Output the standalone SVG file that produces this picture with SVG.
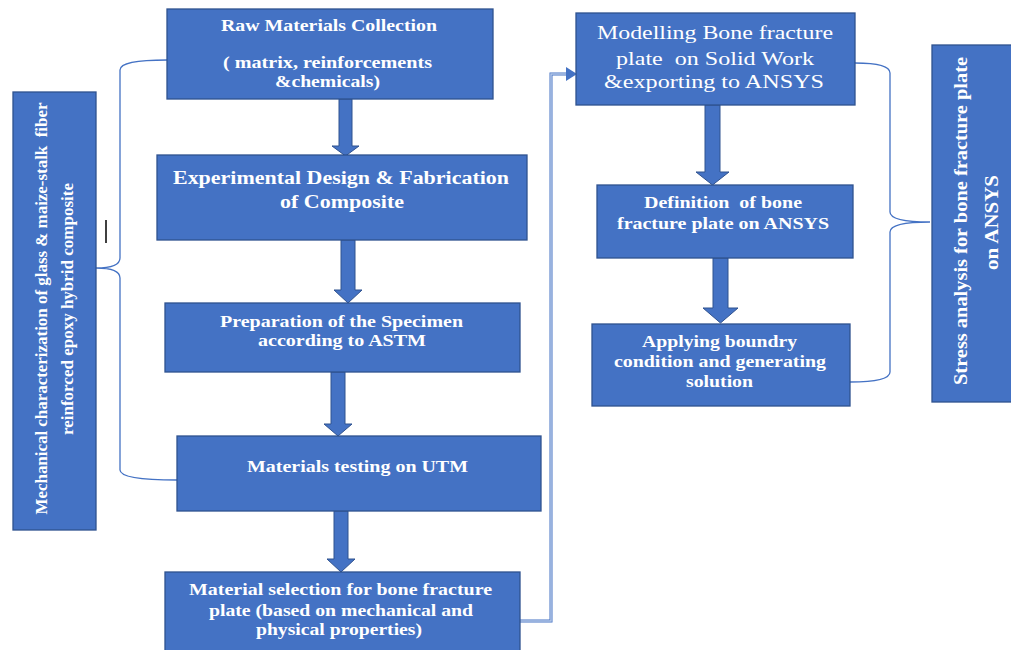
<svg xmlns="http://www.w3.org/2000/svg" width="1011" height="650" viewBox="0 0 1011 650">
<defs>
<style>
.box{fill:#4472c4;stroke:#2f528f;stroke-width:1.3}
.t{fill:#ffffff;font-family:"Liberation Serif","Times New Roman",serif;font-weight:bold;text-anchor:middle;font-size:16px;white-space:pre}
.r{font-weight:normal;font-size:19px}
.brace{fill:none;stroke:#4472c4;stroke-width:1.3}
.blk{fill:#4472c4;stroke:#2f528f;stroke-width:1}
</style>
</defs>
<rect width="1011" height="650" fill="#ffffff"/>

<g id="connectors">
<path class="brace" d="M167,60 Q120,60 120,70 L120,258 Q120,268 96,268 Q120,268 120,278 L120,470 Q120,480 177,480"/>
<path class="brace" d="M855,63 Q890,63 890,73 L890,212 Q890,222 930,222 Q890,222 890,232 L890,372 Q890,382 850,382"/>
<line x1="106" y1="220" x2="106" y2="243" stroke="#000000" stroke-width="1.5"/>
<path class="blk" d="M339,99 L352,99 L352,146 L359,146 L345.5,156 L332,146 L339,146 Z"/>
<path class="blk" d="M341,240 L355,240 L355,290 L362,290 L348,303 L334,290 L341,290 Z"/>
<path class="blk" d="M331,372 L345,372 L345,424 L352,424 L338,436 L324,424 L331,424 Z"/>
<path class="blk" d="M334,511 L348,511 L348,559 L355,559 L341,572 L327,559 L334,559 Z"/>
<path class="blk" d="M705,105 L720,105 L720,172 L729,172 L712.5,185 L696,172 L705,172 Z"/>
<path class="blk" d="M713,258 L728,258 L728,308 L738,308 L720.5,323 L703,308 L713,308 Z"/>
<path d="M520,621 L551,621 L551,74 L568,74" fill="none" stroke="#4472c4" stroke-width="3"/>
<path d="M520,621 L551,621 L551,74 L568,74" fill="none" stroke="#b4c7e7" stroke-width="1.5"/>
<path d="M566,67 L577,74 L566,81 Z" fill="#4472c4"/>
</g>

<g id="left-label">
<rect class="box" x="13" y="92" width="83" height="438"/>
<text class="t" xml:space="preserve" transform="translate(46.5,308.5) rotate(-90)" textLength="412" lengthAdjust="spacingAndGlyphs">Mechanical characterization of glass &amp; maize-stalk  fiber</text>
<text class="t" transform="translate(73,309) rotate(-90)" textLength="252" lengthAdjust="spacingAndGlyphs">reinforced epoxy hybrid composite</text>
</g>

<g id="raw-materials">
<rect class="box" x="167" y="9" width="326" height="90"/>
<text class="t" x="329" y="31" textLength="216" lengthAdjust="spacingAndGlyphs">Raw Materials Collection</text>
<text class="t" x="327.5" y="68" textLength="209" lengthAdjust="spacingAndGlyphs">( matrix, reinforcements</text>
<text class="t" x="327.5" y="87" textLength="105" lengthAdjust="spacingAndGlyphs">&amp;chemicals)</text>
</g>

<g id="experimental-design">
<rect class="box" x="157" y="155" width="370" height="85"/>
<text class="t" style="font-size:18px" x="341" y="184" textLength="336" lengthAdjust="spacingAndGlyphs">Experimental Design &amp; Fabrication</text>
<text class="t" style="font-size:18px" x="342" y="208" textLength="124" lengthAdjust="spacingAndGlyphs">of Composite</text>
</g>

<g id="preparation">
<rect class="box" x="165" y="303" width="355" height="69"/>
<text class="t" x="341.5" y="327" textLength="243" lengthAdjust="spacingAndGlyphs">Preparation of the Specimen</text>
<text class="t" x="342" y="346" textLength="168" lengthAdjust="spacingAndGlyphs">according to ASTM</text>
</g>

<g id="testing">
<rect class="box" x="177" y="436" width="364" height="75"/>
<text class="t" x="357.5" y="472" textLength="221" lengthAdjust="spacingAndGlyphs">Materials testing on UTM</text>
</g>

<g id="selection">
<rect class="box" x="165" y="572" width="355" height="80"/>
<text class="t" x="340.5" y="595" textLength="303" lengthAdjust="spacingAndGlyphs">Material selection for bone fracture</text>
<text class="t" x="341" y="616" textLength="264" lengthAdjust="spacingAndGlyphs">plate (based on mechanical and</text>
<text class="t" x="339" y="635" textLength="166" lengthAdjust="spacingAndGlyphs">physical properties)</text>
</g>

<g id="modelling">
<rect class="box" x="576" y="13" width="279" height="92"/>
<text class="t r" x="715" y="39" textLength="236" lengthAdjust="spacingAndGlyphs">Modelling Bone fracture</text>
<text class="t r" xml:space="preserve" x="715" y="65" textLength="198" lengthAdjust="spacingAndGlyphs">plate  on Solid Work</text>
<text class="t r" x="714" y="88" textLength="220" lengthAdjust="spacingAndGlyphs">&amp;exporting to ANSYS</text>
</g>

<g id="definition">
<rect class="box" x="597" y="185" width="256" height="73"/>
<text class="t" xml:space="preserve" x="723" y="208" textLength="158" lengthAdjust="spacingAndGlyphs">Definition  of bone</text>
<text class="t" x="723" y="229" textLength="212" lengthAdjust="spacingAndGlyphs">fracture plate on ANSYS</text>
</g>

<g id="applying">
<rect class="box" x="592" y="324" width="258" height="82"/>
<text class="t" x="719.5" y="347" textLength="155" lengthAdjust="spacingAndGlyphs">Applying boundry</text>
<text class="t" x="720" y="367" textLength="212" lengthAdjust="spacingAndGlyphs">condition and generating</text>
<text class="t" x="719.5" y="387" textLength="67" lengthAdjust="spacingAndGlyphs">solution</text>
</g>

<g id="right-label">
<rect class="box" x="932" y="45" width="82" height="357"/>
<text class="t" style="font-size:18px" transform="translate(967,221) rotate(-90)" textLength="328" lengthAdjust="spacingAndGlyphs">Stress analysis for bone fracture plate</text>
<text class="t" style="font-size:18px" transform="translate(998,222.5) rotate(-90)" textLength="95" lengthAdjust="spacingAndGlyphs">on ANSYS</text>
</g>
</svg>
